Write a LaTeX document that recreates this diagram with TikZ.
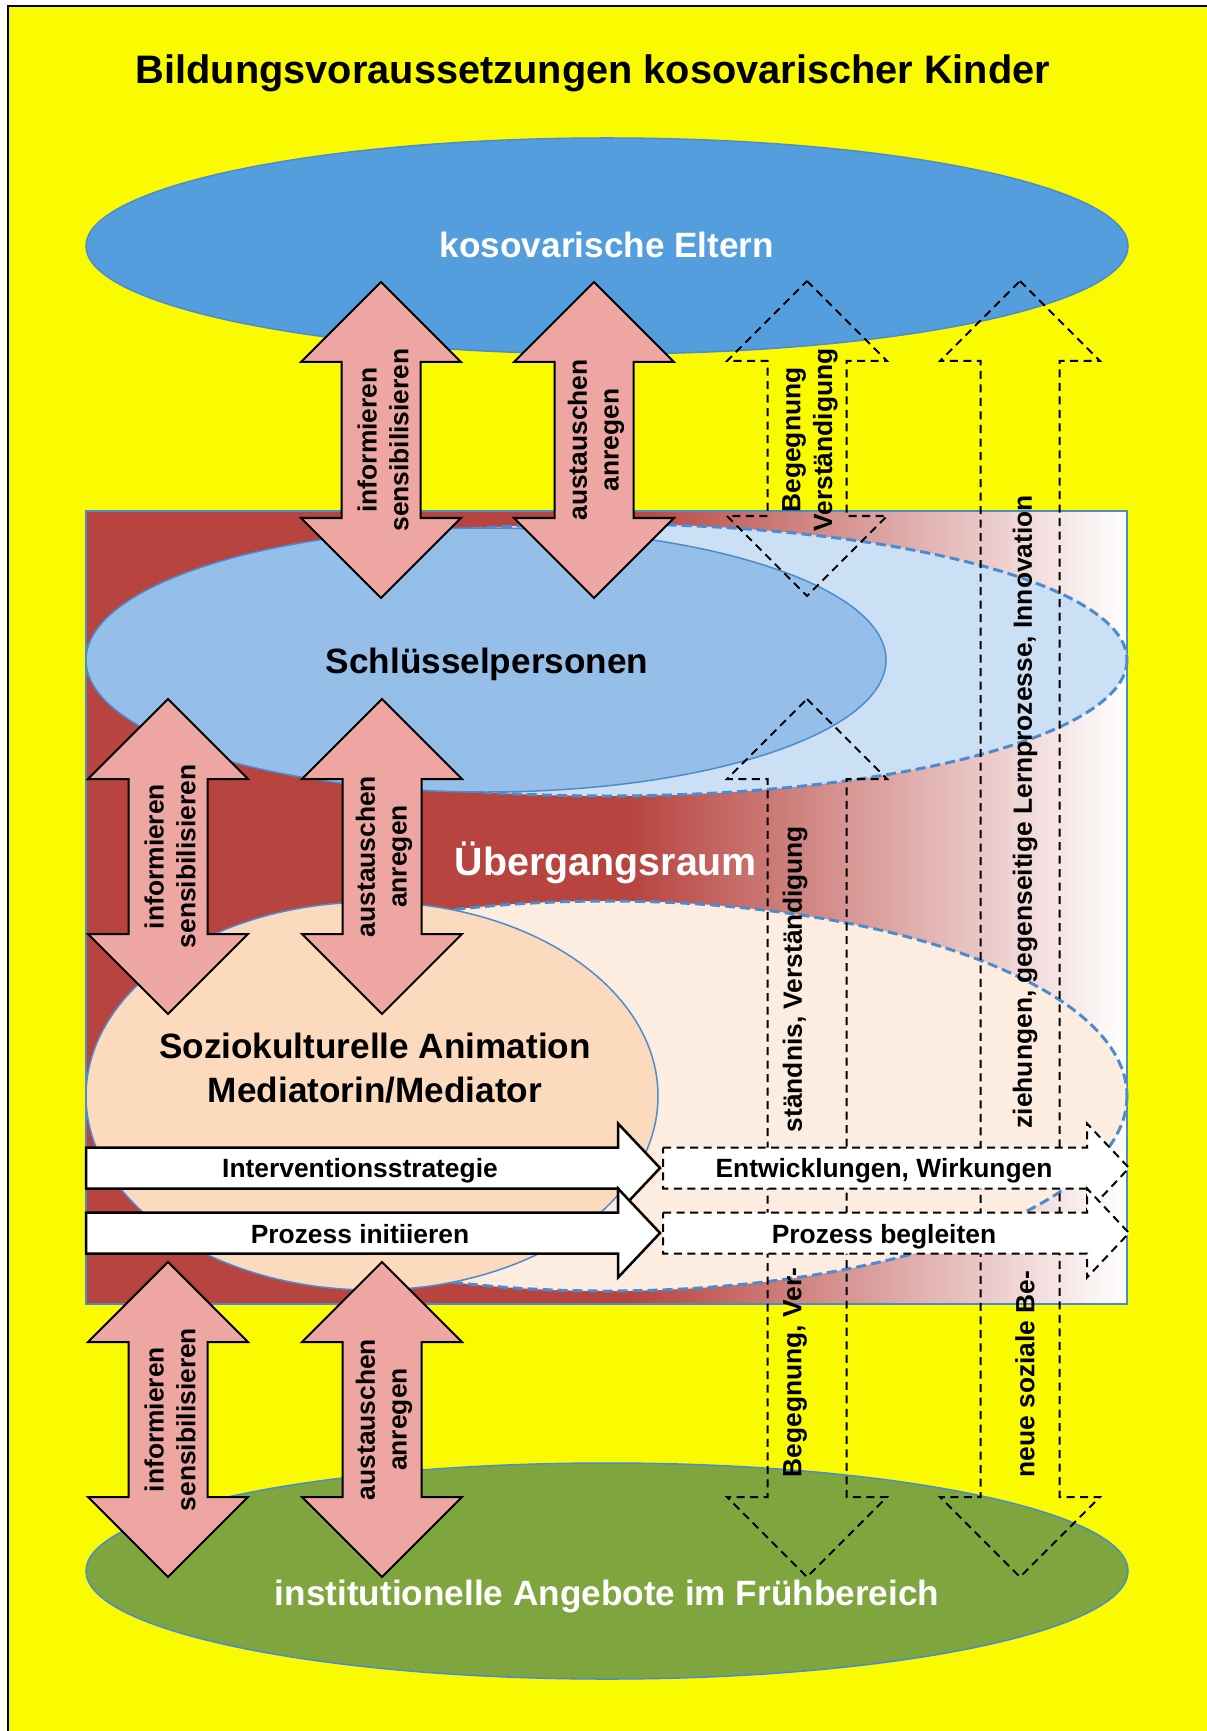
\documentclass[tikz,border=0pt]{standalone}
\usepackage{fontspec}
\setmainfont{Liberation Sans}

\definecolor{bgyellow}{RGB}{250,250,0}
\definecolor{elternblue}{RGB}{84,158,222}
\definecolor{roomred}{RGB}{183,68,63}
\definecolor{keyblue}{RGB}{149,191,233}
\definecolor{paleblue}{RGB}{203,224,245}
\definecolor{peach}{RGB}{252,218,189}
\definecolor{palepeach}{RGB}{253,237,224}
\definecolor{kitagreen}{RGB}{127,165,63}
\definecolor{arrowpink}{RGB}{237,166,162}
\definecolor{lineblue}{RGB}{76,140,206}

\tikzset{
  soft/.style={draw=lineblue,line width=0.015cm},
  softdash/.style={draw=lineblue,line width=0.03cm,dash pattern=on 0.1cm off 0.05cm},
  pinkarrow/.style={fill=arrowpink,draw=black,line width=0.02cm},
  dasharrow/.style={draw=black,line width=0.02cm,dash pattern=on 0.08cm off 0.055cm},
  whitearrow/.style={fill=white,draw=black,line width=0.025cm},
  dashwhite/.style={fill=white,dasharrow},
  smalltext/.style={font=\bfseries\fontsize{7.5}{9}\selectfont,align=center,inner sep=0pt},
  bigtext/.style={font=\bfseries\fontsize{10}{12.5}\selectfont,align=center,inner sep=0pt},
  titletext/.style={font=\bfseries\fontsize{11.3}{13.5}\selectfont,inner sep=0pt},
  roomtext/.style={font=\bfseries\fontsize{11.2}{13.5}\selectfont,white,inner sep=0pt}
}

\begin{document}
\begin{tikzpicture}[x=0.01cm,y=-0.01cm]
\useasboundingbox (0,0) rectangle (1207,1731);
\fill[white] (0,0) rectangle (1207,1731);
\filldraw[fill=bgyellow,draw=black,line width=0.02cm] (8,6) rectangle (1250,1770);

% Eltern
\filldraw[fill=elternblue,soft] (607,246) ellipse [x radius=521,y radius=108];

% Uebergangsraum
\fill[roomred] (86,511) rectangle (632,1304);
\shade[left color=roomred,right color=white] (631,511) rectangle (1127,1304);
\draw[lineblue,line width=0.025cm] (86,511) rectangle (1127,1304);

\filldraw[fill=paleblue,softdash] (607,660) ellipse [x radius=520,y radius=136];
\filldraw[fill=keyblue,soft] (486,660) ellipse [x radius=400,y radius=132];
\filldraw[fill=palepeach,softdash] (607,1096) ellipse [x radius=520,y radius=195];
\filldraw[fill=peach,soft] (372,1096) ellipse [x radius=286,y radius=194];

% Angebote
\filldraw[fill=kitagreen,soft] (607,1571) ellipse [x radius=521,y radius=108];

\node[titletext,anchor=base] (title) at (593,84) {Bildungsvoraussetzungen kosovarischer Kinder};
\node[bigtext,white,anchor=base] (eltern) at (607,258) {kosovarische Eltern};
\node[bigtext,anchor=base] (schluessel) at (487,673) {Schlüsselpersonen};
\node[roomtext,anchor=base] (raum) at (606,875) {Übergangsraum};
\node[bigtext] (animation) at (375,1068) {Soziokulturelle Animation\\Mediatorin/Mediator};
\node[bigtext,white,anchor=base] (angebote) at (607,1605) {institutionelle Angebote im Frühbereich};

% dashed double arrows
\foreach \x/\yt/\yb in {807/281/596,807/699/1577,1020/281/1577}
  \draw[dasharrow] (\x,\yt) -- ++(80,80) -- ++(-40.5,0) -- ({\x+39.5},{\yb-80}) -- ++(40.5,0)
    -- (\x,\yb) -- ++(-80,-80) -- ++(40.5,0) -- ({\x-39.5},{\yt+80}) -- ++(-40.5,0) -- cycle;

% process arrows
\foreach \yc in {1168,1233}
  \draw[whitearrow] (86,{\yc-20.5}) -- (618,{\yc-20.5}) -- (618,{\yc-44.5}) -- (660,\yc)
    -- (618,{\yc+44.5}) -- (618,{\yc+20.5}) -- (86,{\yc+20.5}) -- cycle;
\foreach \yc in {1168,1233}
  \draw[dashwhite] (663,{\yc-20.5}) -- (1087,{\yc-20.5}) -- (1087,{\yc-44.5}) -- (1129,\yc)
    -- (1087,{\yc+44.5}) -- (1087,{\yc+20.5}) -- (663,{\yc+20.5}) -- cycle;

\node[smalltext,anchor=base] (strategie) at (360,1177) {Interventionsstrategie};
\node[smalltext,anchor=base] (initiieren) at (360,1243) {Prozess initiieren};
\node[smalltext,anchor=base] (wirkungen) at (884,1177) {Entwicklungen, Wirkungen};
\node[smalltext,anchor=base] (begleiten) at (884,1243) {Prozess begleiten};

% pink double arrows
\foreach \x/\yt/\yb/\lab [count=\i] in {381/282/598/{informieren\\sensibilisieren},
    594/282/598/{austauschen\\anregen},168/699/1014/{informieren\\sensibilisieren},
    382/699/1014/{austauschen\\anregen},168/1262/1577/{informieren\\sensibilisieren},
    382/1262/1577/{austauschen\\anregen}}
{
\draw[pinkarrow] (\x,\yt) -- ++(80,80) -- ++(-40.5,0) -- ({\x+39.5},{\yb-80}) -- ++(40.5,0)
  -- (\x,\yb) -- ++(-80,-80) -- ++(40.5,0) -- ({\x-39.5},{\yt+80}) -- ++(-40.5,0) -- cycle;
\node[smalltext,rotate=90] (pink\i) at ({\x+2},{(\yt+\yb)/2}) {\lab};
}

\node[smalltext,rotate=90] (treffen) at (810,440) {Begegnung\\Verständigung};
\node[smalltext,rotate=90,anchor=west] (verstaendnis) at (795,1133) {ständnis, Verständigung};
\node[smalltext,rotate=90,anchor=west] (begegnung) at (795,1478) {Begegnung, Ver-};
\node[smalltext,rotate=90,anchor=west] (lernen) at (1025,1129) {ziehungen, gegenseitige Lernprozesse, Innovation};
\node[smalltext,rotate=90,anchor=west] (sozial) at (1025,1478) {neue soziale Be-};
\end{tikzpicture}
\end{document}
